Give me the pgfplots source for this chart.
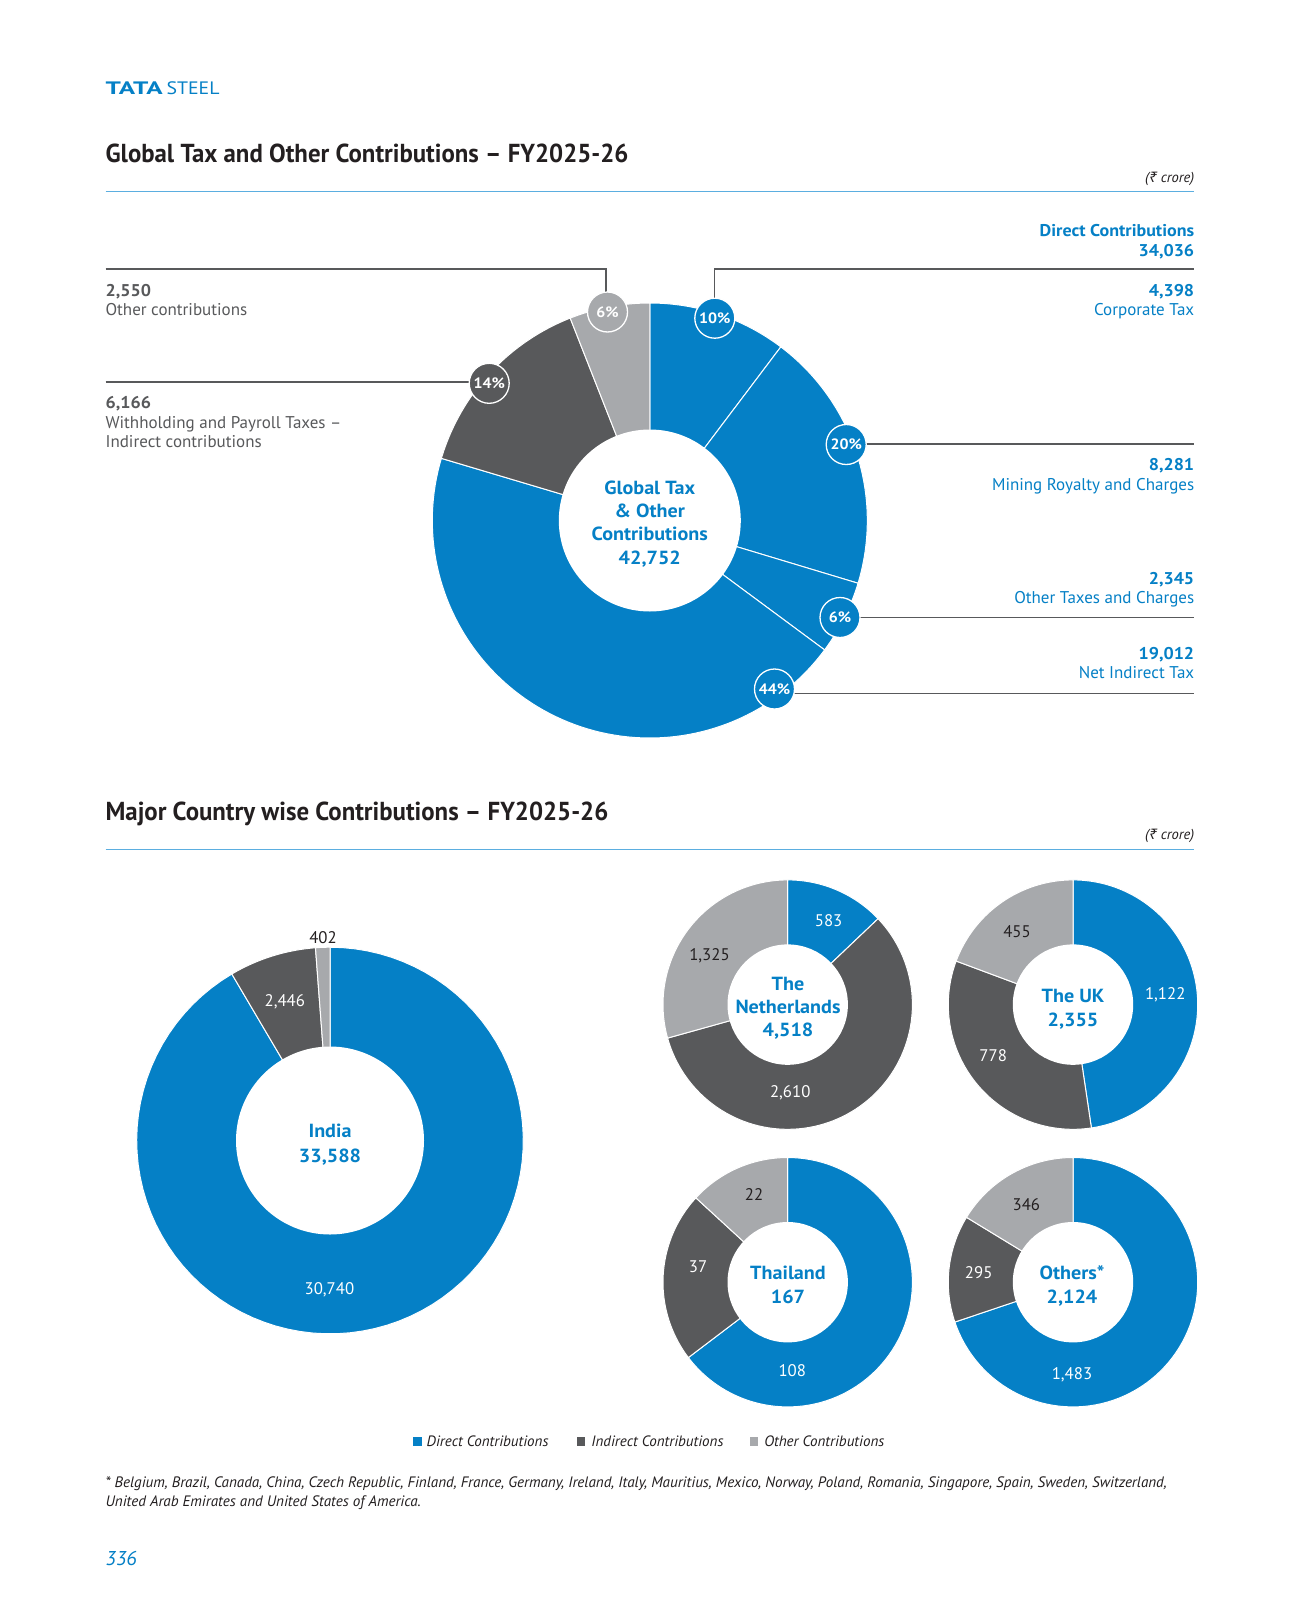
\documentclass[border=0pt]{standalone}
\usepackage{fontspec}
\setmainfont{PT Sans}
\newfontfamily\wfam{PT Sans}[FakeStretch=1.06]
\newfontfamily\nfam{PT Sans}[FakeStretch=0.955]
\newfontfamily\rupee{Noto Sans}
\usepackage{pgfplots}
\usepackage{pgfplotstable}
\pgfplotsset{compat=1.18}
\definecolor{tblue}{HTML}{0580C6}
\definecolor{tdgrey}{HTML}{58595B}
\definecolor{tlgrey}{HTML}{A7A9AC}
\definecolor{trule}{HTML}{5BAEE0}
\definecolor{tblack}{HTML}{231F20}

% ---- data (Rs crore), clockwise from 12 o'clock ----
\pgfplotstableread{
val col
4398 tblue
8281 tblue
2345 tblue
19012 tblue
6166 tdgrey
2550 tlgrey
}\tabMain
\pgfplotstableread{
val col
30740 tblue
2446 tdgrey
402 tlgrey
}\tabIndia
\pgfplotstableread{
val col
583 tblue
2610 tdgrey
1325 tlgrey
}\tabNL
\pgfplotstableread{
val col
1122 tblue
778 tdgrey
455 tlgrey
}\tabUK
\pgfplotstableread{
val col
108 tblue
37 tdgrey
22 tlgrey
}\tabTH
\pgfplotstableread{
val col
1483 tblue
295 tdgrey
346 tlgrey
}\tabOT

% #1 table, #2 cx, #3 cy, #4 outer R, #5 inner r  (y axis points down)
\newcommand\donut[5]{%
  \gdef\tot{0}%
  \pgfplotstableforeachcolumnelement{val}\of#1\as\cell{%
    \xdef\tot{\fpeval{\tot+\cell}}}%
  \gdef\cum{-90}%
  \pgfplotstableforeachcolumnelement{val}\of#1\as\cell{%
    \xdef\nxt{\fpeval{round(\cum+360*\cell/\tot,4)}}%
    \pgfplotstablegetelem{\pgfplotstablerow}{col}\of#1%
    \edef\doit{\noexpand\addplot[fill=\pgfplotsretval, draw=white, line width=1pt,
      domain=\cum:\nxt, samples=90, variable=\noexpand\t]
      ({#2+#4*cos(\noexpand\t)},{#3+#4*sin(\noexpand\t)}) -- (axis cs:#2,#3) -- cycle;}%
    \doit
    \global\let\cum\nxt}%
  \fill[white] (axis cs:#2,#3) circle[radius=#5];
}

\newcommand\fs[1]{\fontsize{#1}{#1}\selectfont}
\tikzset{
  lab/.style={inner sep=0pt, outer sep=0pt},
  bub/.style={circle, draw=white, line width=1.3pt, minimum size=40pt, inner sep=0pt,
     text=white, font=\wfam\fs{15}\bfseries}}

\begin{document}
\begin{tikzpicture}
\begin{axis}[width=1307pt, height=1624pt, scale only axis,
  xmin=0, xmax=1307, ymin=0, ymax=1624, y dir=reverse,
  hide axis, clip=false]
\fill[white] (axis cs:0,0) rectangle (axis cs:1307,1624);

% header
\node[lab, anchor=base west, text=tblue, font=\fs{18}] at (axis cs:105.6,94.5)
  {\textbf{\scalebox{1.5}[1]{TATA}}\hspace{4pt}\scalebox{1.1}[1]{STEEL}};
\node[lab, anchor=base west, text=tblack, font=\nfam\fs{26}\bfseries] at (axis cs:105.6,163)
  {Global Tax and Other Contributions \textendash{} FY2025-26};
\node[lab, anchor=base east, text=tblack, font=\fs{14.5}\itshape] at (axis cs:1194.2,182.5)
  {({\rupee ₹} crore)};
\draw[trule, line width=1.5pt] (axis cs:105.6,191.6) -- (axis cs:1194.2,191.6);

% main donut
\donut{\tabMain}{649.8}{520.5}{217.5}{91}

% callout lines
\draw[tdgrey, line width=1.5pt] (axis cs:105.6,268.8) -- (axis cs:606,268.8) -- (axis cs:606,300);
\draw[tdgrey, line width=1.5pt] (axis cs:714.6,300) -- (axis cs:714.6,268.8) -- (axis cs:1194.2,268.8);
\draw[tdgrey, line width=1.5pt] (axis cs:105.6,381.8) -- (axis cs:480,381.8);
\draw[tdgrey, line width=1.5pt] (axis cs:850,443.8) -- (axis cs:1194.2,443.8);
\draw[tdgrey, line width=1.5pt] (axis cs:845,617.7) -- (axis cs:1194.2,617.7);
\draw[tdgrey, line width=1.5pt] (axis cs:780,693.3) -- (axis cs:1194.2,693.3);

% bubbles
\node[bub, fill=tblue]  at (axis cs:714.8,318.2) {10\%};
\node[bub, fill=tblue]  at (axis cs:846.2,444.5) {20\%};
\node[bub, fill=tblue]  at (axis cs:840.0,617.5) {6\%};
\node[bub, fill=tblue]  at (axis cs:774.5,689.0) {44\%};
\node[bub, fill=tdgrey] at (axis cs:489.2,383.3) {14\%};
\node[bub, fill=tlgrey] at (axis cs:607.5,312.0) {6\%};

% centre text
\begin{scope}[every node/.style={lab, anchor=base, text=tblue, font=\wfam\fs{19}\bfseries}]
\node at (axis cs:649.8,494) {Global Tax};
\node at (axis cs:649.8,517.3) {\& Other};
\node at (axis cs:649.8,540.7) {Contributions};
\node at (axis cs:649.8,564.3) {42,752};
\end{scope}

% right labels
\begin{scope}[every node/.style={lab, anchor=base east, text=tblue, font=\fs{17}}]
\node[font=\wfam\fs{17}\bfseries] at (axis cs:1194.2,236) {Direct Contributions};
\node[font=\wfam\fs{17}\bfseries] at (axis cs:1194.2,256) {34,036};
\node[font=\wfam\fs{17}\bfseries] at (axis cs:1194.2,296.7) {4,398};
\node at (axis cs:1194.2,315.3) {Corporate Tax};
\node[font=\wfam\fs{17}\bfseries] at (axis cs:1194.2,470.7) {8,281};
\node at (axis cs:1194.2,490.5) {Mining Royalty and Charges};
\node[font=\wfam\fs{17}\bfseries] at (axis cs:1194.2,584) {2,345};
\node at (axis cs:1194.2,603.8) {Other Taxes and Charges};
\node[font=\wfam\fs{17}\bfseries] at (axis cs:1194.2,659) {19,012};
\node at (axis cs:1194.2,678.8) {Net Indirect Tax};
\end{scope}

% left labels
\begin{scope}[every node/.style={lab, anchor=base west, text=tdgrey, font=\fs{17}}]
\node[font=\wfam\fs{17}\bfseries] at (axis cs:105.6,296.7) {2,550};
\node at (axis cs:105.6,315.3) {Other contributions};
\node[font=\wfam\fs{17}\bfseries] at (axis cs:105.6,408.5) {6,166};
\node at (axis cs:105.6,428) {Withholding and Payroll Taxes \textendash};
\node at (axis cs:105.6,447.6) {Indirect contributions};
\end{scope}

% second title
\node[lab, anchor=base west, text=tblack, font=\nfam\fs{26}\bfseries] at (axis cs:105.6,820)
  {Major Country wise Contributions \textendash{} FY2025-26};
\node[lab, anchor=base east, text=tblack, font=\fs{14.5}\itshape] at (axis cs:1194.2,839.3)
  {({\rupee ₹} crore)};
\draw[trule, line width=1.5pt] (axis cs:105.6,849.3) -- (axis cs:1194.2,849.3);

% country donuts
\donut{\tabIndia}{330}{1140.5}{193.3}{94}
\donut{\tabNL}{787.7}{1004.6}{124.7}{60.2}
\donut{\tabUK}{1073}{1004.6}{124.7}{60.2}
\donut{\tabTH}{787.7}{1282.2}{124.7}{60.2}
\donut{\tabOT}{1073}{1282.2}{124.7}{60.2}

% value labels
\begin{scope}[every node/.style={lab, anchor=base, text=white, font=\fs{16.8}}]
\node[text=tblack] at (axis cs:323,943.7) {402};
\node at (axis cs:284.8,1006) {2,446};
\node at (axis cs:329.4,1294.8) {30,740};
\node at (axis cs:828.6,926.1) {583};
\node[text=tblack] at (axis cs:709.5,960.4) {1,325};
\node at (axis cs:790.2,1097) {2,610};
\node[text=tblack] at (axis cs:1017,937.5) {455};
\node at (axis cs:1165.2,999.7) {1,122};
\node at (axis cs:993.2,1061.8) {778};
\node[text=tblack] at (axis cs:754,1200.6) {22};
\node at (axis cs:698,1272) {37};
\node at (axis cs:792.3,1376.6) {108};
\node[text=tblack] at (axis cs:1026.4,1210.9) {346};
\node at (axis cs:978.7,1278.2) {295};
\node at (axis cs:1072,1379.7) {1,483};
\end{scope}

% donut centre labels
\begin{scope}[every node/.style={lab, anchor=base, text=tblue, font=\wfam\fs{19}\bfseries}]
\node at (axis cs:330,1137.7) {India};
\node at (axis cs:330,1162.3) {33,588};
\node at (axis cs:788,990.2) {The};
\node at (axis cs:788,1013) {Netherlands};
\node at (axis cs:788,1036.8) {4,518};
\node at (axis cs:1073,1002.6) {The UK};
\node at (axis cs:1073,1026.5) {2,355};
\node at (axis cs:788,1279.1) {Thailand};
\node at (axis cs:788,1303) {167};
\node at (axis cs:1072,1279.1) {Others*};
\node at (axis cs:1072,1303) {2,124};
\end{scope}

% legend
\begin{scope}[every node/.style={lab, anchor=base west, text=tblack, font=\fs{15}\itshape}]
\fill[tblue]  (axis cs:413.2,1437.2) rectangle (axis cs:421.8,1445.8);
\node at (axis cs:426.7,1446.8) {Direct Contributions};
\fill[tdgrey] (axis cs:576.8,1437.2) rectangle (axis cs:585.4,1445.8);
\node at (axis cs:591.4,1446.8) {Indirect Contributions};
\fill[tlgrey] (axis cs:749.8,1437.2) rectangle (axis cs:758.4,1445.8);
\node at (axis cs:764.3,1446.8) {Other Contributions};
\end{scope}

% footnote
\begin{scope}[every node/.style={lab, anchor=base west, text=tblack, font=\fs{15.1}\itshape}]
\node at (axis cs:105.6,1487) {* Belgium, Brazil, Canada, China, Czech Republic, Finland, France, Germany, Ireland, Italy, Mauritius, Mexico, Norway, Poland, Romania, Singapore, Spain, Sweden, Switzerland,};
\node at (axis cs:105.6,1506.5) {United Arab Emirates and United States of America.};
\end{scope}

\node[lab, anchor=base west, text=tblue, font=\fs{20}\itshape] at (axis cs:105.6,1565.5) {336};
\end{axis}
\end{tikzpicture}
\end{document}
